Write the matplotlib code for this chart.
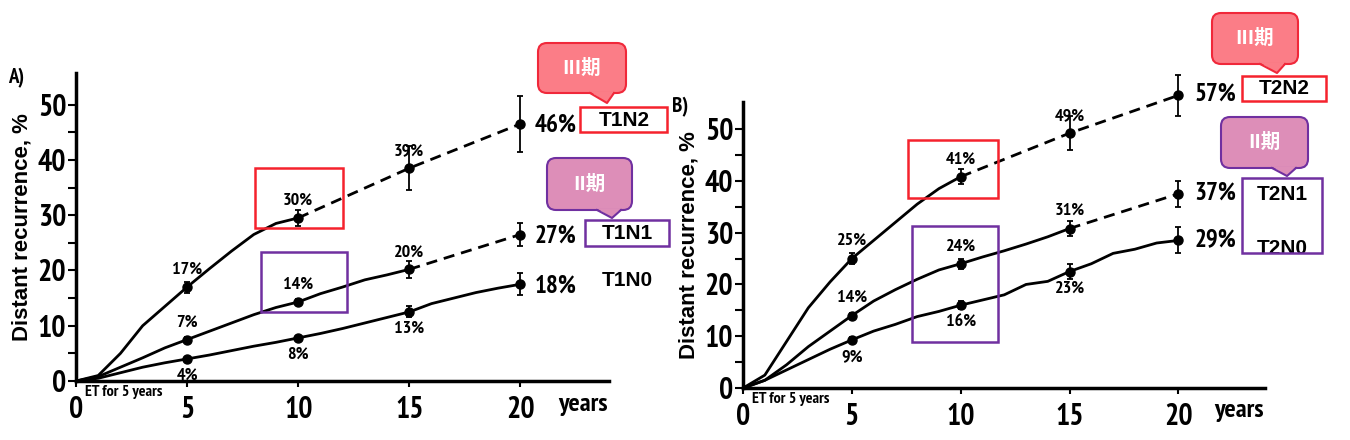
import numpy as np
import matplotlib
matplotlib.use("Agg")
import matplotlib.pyplot as plt
from matplotlib.patches import Rectangle, FancyBboxPatch, Polygon
from matplotlib.transforms import IdentityTransform

NARROW = ['PT Sans Narrow', 'Fira Sans Condensed', 'DejaVu Sans']
SANS = ['Liberation Sans', 'DejaVu Sans']
CJK = ['Noto Sans CJK SC', 'DejaVu Sans']

years = [0, 1, 2, 3, 4, 5, 6, 7, 8, 9, 10, 11, 12, 13, 14, 15, 16, 17, 18, 19, 20]
pts = [5, 10, 15, 20]

# panel A (T1)
t1n2_solid = [0, 1, 5, 10, 13.5, 17, 20.3, 23.5, 26.5, 28.5, 29.5]
t1n2_pts = [17, 29.5, 38.5, 46.5]
t1n2_err = [1, 1.5, 4, 5]
t1n1_solid = [0, 0.8, 2.5, 4.2, 6, 7.5, 9, 10.5, 12, 13.3, 14.3, 15.8, 17, 18.3, 19.2, 20.2]
t1n1_pts = [7.5, 14.3, 20.2, 26.5]
t1n1_err = [0.5, 0.6, 1.5, 2]
t1n0_solid = [0, 0.5, 1.5, 2.5, 3.3, 4, 4.7, 5.5, 6.3, 7, 7.8, 8.6, 9.5, 10.5, 11.5, 12.5,
              14, 15, 16, 16.8, 17.5]
t1n0_pts = [4, 7.8, 12.5, 17.5]
t1n0_err = [0.4, 0.4, 1, 2]

# panel B (T2)
t2n2_solid = [0, 2.5, 9, 15.5, 20.5, 25, 28.5, 32, 35.5, 38.5, 40.8]
t2n2_pts = [25, 40.8, 49.2, 56.5]
t2n2_err = [1, 1.5, 3.3, 4]
t2n1_solid = [0, 1.5, 4.5, 8, 11, 14, 16.8, 19, 21, 22.8, 24, 25.3, 26.5, 27.8, 29.2, 30.8]
t2n1_pts = [14, 24, 30.8, 37.5]
t2n1_err = [0.5, 1, 1.5, 2.5]
t2n0_solid = [0, 1.5, 3.5, 5.5, 7.5, 9.3, 11, 12.3, 13.8, 14.8, 16, 17, 18, 20, 20.6, 22.5,
              24, 26, 26.8, 28, 28.5]
t2n0_pts = [9.3, 16, 22.5, 28.5]
t2n0_err = [0.5, 0.8, 1.5, 2.5]

# point labels: (texts, values, above?)
a_labels = [
    (['17%', '30%', '39%'], t1n2_pts[:3], True),
    (['7%', '14%', '20%'], t1n1_pts[:3], True),
    (['4%', '8%', '13%'], t1n0_pts[:3], False),
]
b_labels = [
    (['25%', '41%', '49%'], t2n2_pts[:3], True),
    (['14%', '24%', '31%'], t2n1_pts[:3], True),
    (['9%', '16%', '23%'], t2n0_pts[:3], False),
]
a_end = ['46%', '27%', '18%']
b_end = ['57%', '37%', '29%']

RED = '#f5222d'
PURPLE = '#7030a0'
H = 440

fig = plt.figure(figsize=(13.5, 4.4), dpi=100)


def curve(ax, solid, p, err, dash_from):
    n = len(solid)
    ax.plot(years[:n], solid, color='black', lw=2, solid_capstyle='round', clip_on=False)
    xd = [q for q in pts if q >= dash_from]
    yd = [v for q, v in zip(pts, p) if q >= dash_from]
    if len(xd) > 1:
        ax.plot(xd, yd, color='black', lw=2, ls=(0, (4, 2.5)), clip_on=False)
    eb = ax.errorbar(pts, p, yerr=err, fmt='o', color='black', ms=6.5, elinewidth=1.3,
                     capsize=2.5, capthick=1.3, zorder=5)
    for a in eb.get_children():
        a.set_clip_on(False)


def setup(ax, ytop):
    ax.set_xlim(0, 24)
    ax.set_ylim(0, ytop)
    for s in ['top', 'right']:
        ax.spines[s].set_visible(False)
    for s in ['left', 'bottom']:
        ax.spines[s].set_linewidth(2.5)
    ax.set_xticks([0, 5, 10, 15, 20])
    ax.set_yticks([0, 10, 20, 30, 40, 50])
    ax.set_yticks([5, 15, 25, 35, 45], minor=True)
    ax.tick_params(axis='x', length=4, width=1.5, pad=7)
    ax.tick_params(axis='y', which='both', length=6, width=1.5, pad=1)
    for lab in ax.get_xticklabels() + ax.get_yticklabels():
        lab.set_family(NARROW)
        lab.set_fontsize(21.5)
        lab.set_fontweight('bold')
    ax.set_ylabel('Distant recurrence, %', family=SANS, fontsize=16, fontweight='bold',
                  labelpad=4)
    ax.text(22.8, -4.3, 'years', family=NARROW, fontsize=19, fontweight='bold',
            ha='center', va='center', clip_on=False)
    ax.text(0.4, -0.8, 'ET for 5 years', family=NARROW, fontsize=11.5, fontweight='bold',
            ha='left', va='top', clip_on=False)


def put_labels(ax, labels, dy):
    for texts, vals, above in labels:
        for t, x, v in zip(texts, [5, 10, 15], vals):
            off = dy if above else -dy
            ax.text(x, v + off, t, family=NARROW, fontsize=13, fontweight='bold',
                    ha='center', va='bottom' if above else 'top')


def callout(x0, y0, x1, y1, tip, base, face, edge, text):
    # pixel coordinates measured from the top-left of the slide
    ident = IdentityTransform()
    box = FancyBboxPatch((x0, H - y1), x1 - x0, y1 - y0,
                         boxstyle='round,pad=0,rounding_size=9',
                         transform=ident, facecolor=face, edgecolor=edge, lw=1.5, zorder=10)
    fig.patches.append(box)
    tri = Polygon([(base[0], H - y1 + 1.5), (base[1], H - y1 + 1.5), (tip[0], H - tip[1])],
                  closed=True, transform=ident, facecolor=face, edgecolor='none', zorder=11)
    fig.patches.append(tri)
    fig.lines.append(plt.Line2D([base[0], tip[0], base[1]], [H - y1, H - tip[1], H - y1],
                                transform=ident, color=edge, lw=1.5, zorder=12))
    fig.text((x0 + x1) / 2, H - (y0 + y1) / 2, text, transform=ident, ha='center',
             va='center', color='white', fontsize=14, fontweight='bold', family=CJK,
             zorder=13)


def rect(ax, x0, x1, y0, y1, color):
    r = Rectangle((x0, y0), x1 - x0, y1 - y0, fill=False, edgecolor=color, lw=1.8,
                  clip_on=False, zorder=6)
    ax.add_patch(r)
    return r


def tag(ax, x, y, t, **kw):
    return ax.text(x, y, t, family=SANS, fontsize=15, fontweight='bold', ha='center',
                   va='center', **kw)


# ---------------- panel A
axA = fig.add_axes([0.0563, 0.134, 0.395, 0.70])
setup(axA, 55.7)
curve(axA, t1n2_solid, t1n2_pts, t1n2_err, 10)
curve(axA, t1n1_solid, t1n1_pts, t1n1_err, 15)
curve(axA, t1n0_solid, t1n0_pts, t1n0_err, 99)
put_labels(axA, a_labels, 1.6)
for t, v in zip(a_end, [t1n2_pts[3], t1n1_pts[3], t1n0_pts[3]]):
    axA.text(21.6, v - 0.3, t, family=NARROW, fontsize=18, fontweight='bold',
             ha='center', va='center', clip_on=False)
rect(axA, 8.06, 12.0, 27.7, 38.5, RED)
rect(axA, 8.33, 12.2, 12.5, 23.3, PURPLE)
rect(axA, 22.7, 26.6, 45.0, 49.5, RED)
rect(axA, 22.9, 26.7, 24.4, 29.1, PURPLE)
tag(axA, 24.7, 47.2, 'T1N2', clip_on=False)
tag(axA, 24.8, 26.7, 'T1N1', clip_on=False)
tag(axA, 24.8, 18.1, 'T1N0', clip_on=False)
axA.text(-2.7, 54.8, 'A)', family=NARROW, fontsize=15, fontweight='bold', ha='center',
         va='center', clip_on=False)

# ---------------- panel B
axB = fig.add_axes([0.5504, 0.118, 0.387, 0.65])
setup(axB, 55.2)
curve(axB, t2n2_solid, t2n2_pts, t2n2_err, 10)
curve(axB, t2n1_solid, t2n1_pts, t2n1_err, 15)
curve(axB, t2n0_solid, t2n0_pts, t2n0_err, 99)
put_labels(axB, b_labels, 1.8)
for t, v in zip(b_end, [t2n2_pts[3], t2n1_pts[3], t2n0_pts[3]]):
    axB.text(21.7, v + 0.2, t, family=NARROW, fontsize=18, fontweight='bold',
             ha='center', va='center', clip_on=False)
rect(axB, 7.6, 11.7, 36.6, 47.9, RED)
rect(axB, 7.75, 11.7, 8.8, 31.2, PURPLE)
rect(axB, 22.9, 26.8, 55.4, 60.3, RED)
box2 = rect(axB, 22.9, 26.6, 26.1, 40.6, PURPLE)
tag(axB, 24.85, 57.9, 'T2N2', clip_on=False)
tag(axB, 24.75, 37.4, 'T2N1', clip_on=False)
t2n0 = tag(axB, 24.75, 27.0, 'T2N0', clip_on=True)
t2n0.set_clip_path(box2)
axB.text(-2.9, 54.3, 'B)', family=NARROW, fontsize=15, fontweight='bold', ha='center',
         va='center', clip_on=False)

# speech-bubble callouts
callout(538, 43, 626, 93, (607, 103), (590, 614), '#fb7d87', '#f0283a', 'III期')
callout(547, 158, 632, 210, (612, 218), (597, 621), '#dd8eb8', PURPLE, 'II期')
callout(1212, 13, 1298, 64, (1277, 73), (1260, 1285), '#fb7d87', '#f0283a', 'III期')
callout(1221, 117, 1308, 168, (1287, 176), (1272, 1296), '#dd8eb8', PURPLE, 'II期')

fig.savefig('out.png', dpi=100)
